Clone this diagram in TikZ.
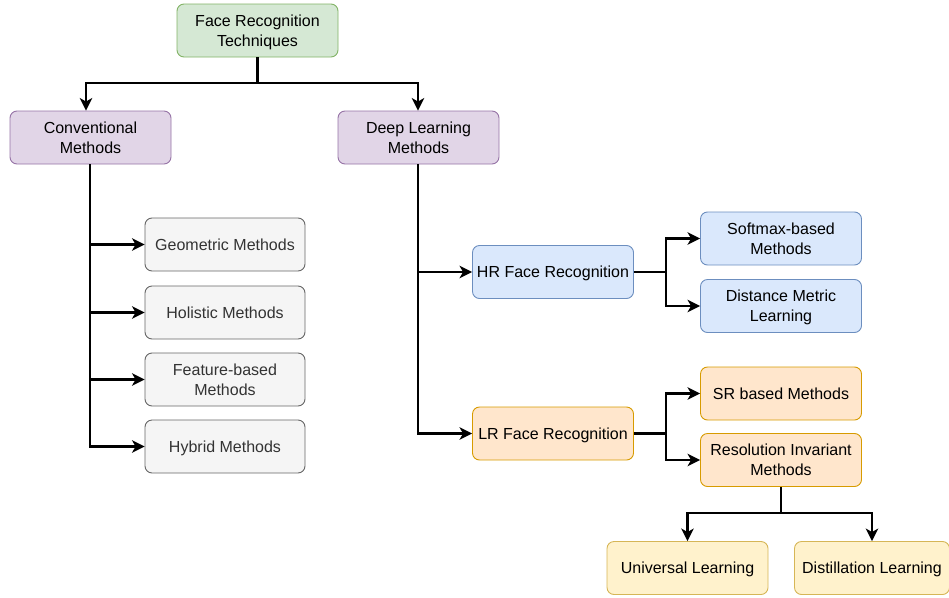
\documentclass[tikz,border=0pt]{standalone}
\usepackage{fontspec}
\setmainfont{Liberation Sans}
\usetikzlibrary{arrows.meta}
\definecolor{grnF}{HTML}{D5E8D4}\definecolor{grnD}{HTML}{82B366}
\definecolor{purF}{HTML}{E1D5E7}\definecolor{purD}{HTML}{9673A6}
\definecolor{gryF}{HTML}{F5F5F5}\definecolor{gryD}{HTML}{666666}\definecolor{gryT}{HTML}{333333}
\definecolor{bluF}{HTML}{DAE8FC}\definecolor{bluD}{HTML}{6C8EBF}
\definecolor{orgF}{HTML}{FFE6CC}\definecolor{orgD}{HTML}{D79B00}
\definecolor{ylwF}{HTML}{FFF2CC}\definecolor{ylwD}{HTML}{D6B656}
\tikzset{
  box/.style={rounded corners=7pt, line width=0.9pt, minimum width=161pt, minimum height=53pt,
    align=center, font=\fontsize{16}{20}\selectfont, inner sep=1pt,
    text depth=0.5pt},
  greenbox/.style={box, fill=grnF, draw=grnD},
  purplebox/.style={box, fill=purF, draw=purD},
  greybox/.style={box, fill=gryF, draw=gryD, text=gryT, minimum width=160pt},
  bluebox/.style={box, fill=bluF, draw=bluD},
  orangebox/.style={box, fill=orgF, draw=orgD},
  yellowbox/.style={box, fill=ylwF, draw=ylwD},
  link/.style={line width=2.4pt, -{Stealth[length=12.5pt, width=12.5pt, inset=3.5pt]}},
  plain/.style={line width=2.4pt}
}
\begin{document}
\begin{tikzpicture}[x=1pt, y=-1pt]
\useasboundingbox (0,0) rectangle (949,597);
% nodes
\node[greenbox] (root) at (257.5,30.5) {Face Recognition\\Techniques};
\node[purplebox] (conv) at (90.5,137.5) {Conventional\\Methods};
\node[purplebox] (deep) at (418.5,137.5) {Deep Learning\\Methods};
\node[greybox] (geo) at (225,244.5) {Geometric Methods};
\node[greybox] (hol) at (225,312.5) {Holistic Methods};
\node[greybox] (feat) at (225,379.5) {Feature-based\\Methods};
\node[greybox] (hyb) at (225,446.5) {Hybrid Methods};
\node[bluebox] (hr) at (553,272) {HR Face Recognition};
\node[bluebox] (soft) at (781,238.5) {Softmax-based\\Methods};
\node[bluebox] (dist) at (781,306) {Distance Metric\\Learning};
\node[orangebox] (lr) at (553,433.5) {LR Face Recognition};
\node[orangebox] (sr) at (781,393.5) {SR based Methods};
\node[orangebox] (res) at (781,460) {Resolution Invariant\\Methods};
\node[yellowbox] (uni) at (687.5,568) {Universal Learning};
\node[yellowbox, minimum width=155pt] (dis) at (872,568) {Distillation Learning};
% branch points
\coordinate (rootJ) at (257.5,83);
\coordinate (convJ) at (86,83);
\coordinate (deepJ) at (418,83);
\coordinate (convX) at (90,0);
\coordinate (deepX) at (418,0);
\coordinate (hrJ) at (666,272);
\coordinate (lrJ) at (666,433.5);
\coordinate (resJ) at (781,513);
% connectors
\draw[plain] (root.south) -- (rootJ);
\draw[link] (rootJ) -- (convJ) -- (convJ |- conv.north);
\draw[link] (rootJ) -- (deepJ) -- (deepJ |- deep.north);
\foreach \t in {geo,hol,feat,hyb}
  \draw[link] (convX |- conv.south) -- (convX |- \t.west) -- (\t.west);
\foreach \t in {hr,lr}
  \draw[link] (deepX |- deep.south) -- (deepX |- \t.west) -- (\t.west);
\draw[plain] (hr.east) -- (hrJ);
\foreach \t in {soft,dist}
  \draw[link] (hrJ) -- (hrJ |- \t.west) -- (\t.west);
\draw[plain] (lr.east) -- (lrJ);
\foreach \t in {sr,res}
  \draw[link] (lrJ) -- (lrJ |- \t.west) -- (\t.west);
\draw[plain] (res.south) -- (resJ);
\draw[link] (resJ) -- (resJ -| uni.north) -- (uni.north);
\draw[link] (resJ) -- (resJ -| dis.north) -- (dis.north);
\end{tikzpicture}
\end{document}
